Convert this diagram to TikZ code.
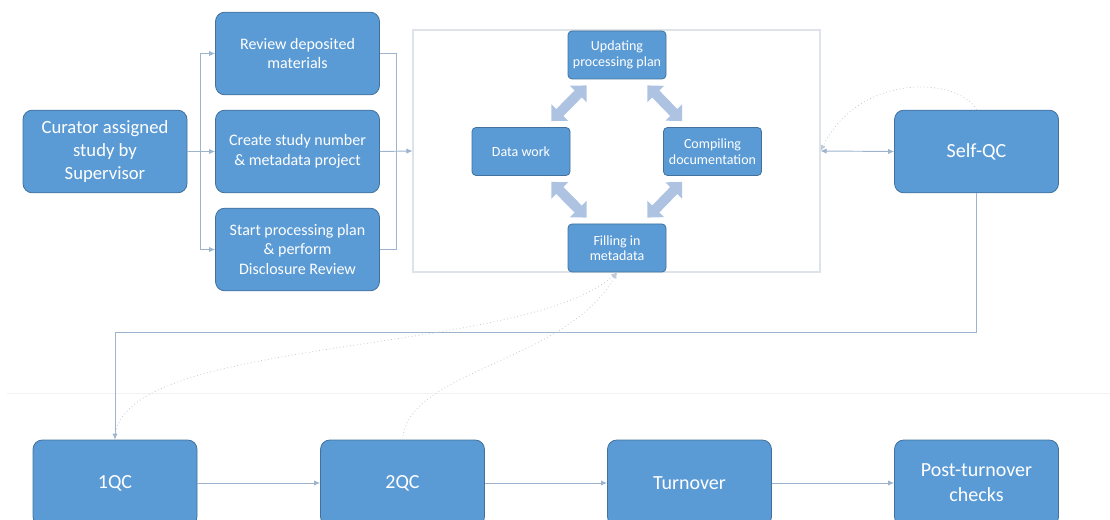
\documentclass[tikz,border=0pt]{standalone}
\usepackage{fontspec}
\setmainfont{Carlito}
\usetikzlibrary{arrows.meta,calc}
\definecolor{boxblue}{HTML}{5B9BD5}
\definecolor{boxedge}{HTML}{41719C}
\definecolor{linkblue}{HTML}{9DB4CC}
\definecolor{fatblue}{HTML}{AEC3E2}
\definecolor{framegray}{HTML}{DEE3E9}
\definecolor{dotgray}{HTML}{BFCBD8}
\newcommand*\bigw  {123pt}
\newcommand*\bigh  {62pt}
\newcommand*\smallw{73.5pt}
\newcommand*\smallh{36pt}
\tikzset{
    stage/.style    = {draw=boxedge, fill=boxblue, text=white, line width=0.6pt,
                      rounded corners=7pt, align=center, inner sep=2pt,
                      minimum width=\bigw, minimum height=\bigh,
                      font=\fontsize{12}{14.8}\selectfont},
    curstage/.style = {stage, font=\fontsize{14}{16.9}\selectfont},
    qcstage/.style  = {stage, font=\fontsize{15}{18.7}\selectfont},
    rowstage/.style = {qcstage, minimum height=64.5pt},
    task/.style     = {stage, rounded corners=3pt,
                      minimum width=\smallw, minimum height=\smallh,
                      font=\fontsize{10.5}{11.6}\selectfont},
    workframe/.style= {draw=framegray, line width=0.8pt,
                      minimum width=305.25pt, minimum height=181.5pt},
    plainlink/.style= {draw=linkblue, line width=0.7pt},
    link/.style     = {plainlink, -{Latex[length=4.5pt,width=4pt]}},
    twoway/.style   = {plainlink, {Latex[length=4.5pt,width=4pt]}-{Latex[length=4.5pt,width=4pt]}},
    dotlink/.style  = {draw=dotgray, line width=0.6pt, dotted,
                      -{Latex[length=4.5pt,width=4pt]}},
    fatarrow/.style = {draw=fatblue, line width=7.5pt,
                      {Triangle[width=17pt,length=9pt]}-{Triangle[width=17pt,length=9pt]}},
  }

\begin{document}
\begin{tikzpicture}[x=0.75pt,y=-0.75pt]
      \useasboundingbox (0,0) rectangle (1110,520);

      % faint slide separator
      \draw[gray!10, line width=0.6pt] (7,393) -- (1110,393);

      % first steps
      \node[curstage] (cur) at (105,151.5) {Curator assigned\\study by\\Supervisor};
      \node[stage] (rev) at (297.5,53.5)  {Review deposited\\materials};
      \node[stage] (cre) at (297.5,151.5) {Create study number\\\& metadata project};
      \node[stage] (sta) at (297.5,249.5) {Start processing plan\\\& perform\\Disclosure Review};

      % processing loop
      \node[workframe] (work) at (616.5,151) {};
      \node[task] (upd) at (617,55)    {Updating\\processing plan};
      \node[task] (dw)  at (521,151.5) {Data work};
      \node[task] (cmp) at (712.5,151.5) {Compiling\\documentation};
      \node[task] (fil) at (617,248)   {Filling in\\metadata};

      \draw[fatarrow] ($(upd.south west)+(19,6)$)  -- ($(dw.north east)+(-19,-6)$);
      \draw[fatarrow] ($(upd.south east)+(-19,6)$) -- ($(cmp.north west)+(19,-6)$);
      \draw[fatarrow] ($(dw.south east)+(-19,6)$)  -- ($(fil.north west)+(19,-6)$);
      \draw[fatarrow] ($(cmp.south west)+(19,6)$)  -- ($(fil.north east)+(-19,-6)$);

      \node[qcstage] (sqc) at (976.5,151.5) {Self-QC};

      % review chain
      \node[rowstage] (q1)  at (115,483)   {1QC};
      \node[rowstage] (q2)  at (402.5,483) {2QC};
      \node[rowstage] (tov) at (689.5,483) {Turnover};
      \node[rowstage] (ptc) at (976.5,483) {Post-turnover\\checks};

      % split and merge round the first steps
      \coordinate (split) at ($(cur.east)+(13,0)$);
      \coordinate (merge) at ($(cre.east)+(17,0)$);
      \draw[link] (cur.east) -- (cre.west);
      \draw[link] (split) |- (rev.west);
      \draw[link] (split) |- (sta.west);
      \draw[plainlink] (rev.east) -| (merge) |- (sta.east);
      \draw[link] (cre.east) -- (work.west);

      % self-QC and back to the loop
      \draw[twoway] (work.east) -- (sqc.west);
      \draw[dotlink] (sqc.north) .. controls +(-17,-32) and +(40,-80) .. (work.east);

      % on to 1QC
      \coordinate (bend) at ($(q1.north)+(0,-107)$);
      \draw[link] (sqc.south) |- (bend) -- (q1.north);

      % QC sends back to metadata
      \draw[dotlink] (q1.north) .. controls +(0,-105) and +(-95,85) .. (fil.south);
      \draw[dotlink] (q2.north) .. controls +(5,-70) and +(-50,90) .. (fil.south);

      % bottom row
      \foreach \a/\b in {q1/q2, q2/tov, tov/ptc} {
        \draw[link] (\a) -- (\b);
      }
    \end{tikzpicture}
\end{document}
